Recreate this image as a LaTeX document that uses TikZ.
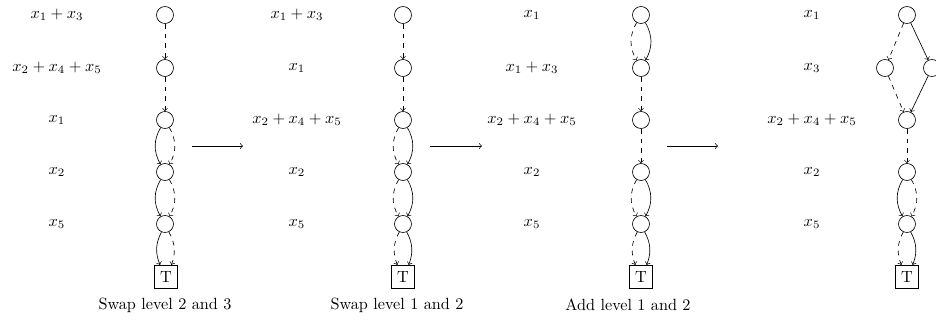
\documentclass[tikz,border=0pt]{standalone}
\begin{document}
\begin{tikzpicture}[x=0.617pt,y=-0.617pt,
  lvl/.style={circle,draw,minimum size=10.5pt,inner sep=0pt},
  term/.style={rectangle,draw,minimum size=14.5pt,inner sep=2pt},
  lo/.style={->,dashed},
  hi/.style={->},
  lab/.style={inner sep=0pt},
  captxt/.style={inner sep=0pt}]
\useasboundingbox (0,0) rectangle (936,325);
\clip (0,0) rectangle (936,325);
% ---------- panel 1
\node[lab] (la1) at (57,15) {$x_1+x_3$};
\node[lab] (la2) at (57,68) {$x_2+x_4+x_5$};
\node[lab] (la3) at (57,120) {$x_1$};
\node[lab] (la4) at (57,172) {$x_2$};
\node[lab] (la5) at (57,224) {$x_5$};
\node[lvl] (a1) at (165,15) {};
\node[lvl] (a2) at (165,68) {};
\node[lvl] (a3) at (165,120) {};
\node[lvl] (a4) at (165,172) {};
\node[lvl] (a5) at (165,224) {};
\node[term] (aT) at (166,277) {T};
\node[captxt] (ca) at (165,305) {Swap level 2 and 3};
\draw[lo] (a1) -- (a2);
\draw[lo] (a2) -- (a3);
\draw[hi] (a3) to[bend right=30] (a4);
\draw[lo] (a3) to[bend left=30] (a4);
\draw[hi] (a4) to[bend right=30] (a5);
\draw[lo] (a4) to[bend left=30] (a5);
\draw[hi] (a5) to[bend right=25] (aT);
\draw[lo] (a5) to[bend left=25] (aT);
% ---------- arrow 1
\coordinate (p1s) at (192,146);
\coordinate (p1e) at (243,146);
\draw[->] (p1s) -- (p1e);
% ---------- panel 2
\node[lab] (lb1) at (297,15) {$x_1+x_3$};
\node[lab] (lb2) at (297,68) {$x_1$};
\node[lab] (lb3) at (297,120) {$x_2+x_4+x_5$};
\node[lab] (lb4) at (297,172) {$x_2$};
\node[lab] (lb5) at (297,224) {$x_5$};
\node[lvl] (b1) at (403,15) {};
\node[lvl] (b2) at (403,68) {};
\node[lvl] (b3) at (403,120) {};
\node[lvl] (b4) at (403,172) {};
\node[lvl] (b5) at (403,224) {};
\node[term] (bT) at (403,277) {T};
\node[captxt] (cb) at (397,305) {Swap level 1 and 2};
\draw[lo] (b1) -- (b2);
\draw[lo] (b2) -- (b3);
\draw[lo] (b3) to[bend right=30] (b4);
\draw[hi] (b3) to[bend left=30] (b4);
\draw[lo] (b4) to[bend right=30] (b5);
\draw[hi] (b4) to[bend left=30] (b5);
\draw[lo] (b5) to[bend right=25] (bT);
\draw[hi] (b5) to[bend left=25] (bT);
% ---------- arrow 2
\coordinate (p2s) at (430,146);
\coordinate (p2e) at (482,146);
\draw[->] (p2s) -- (p2e);
% ---------- panel 3
\node[lab] (lc1) at (532,15) {$x_1$};
\node[lab] (lc2) at (532,68) {$x_1+x_3$};
\node[lab] (lc3) at (532,120) {$x_2+x_4+x_5$};
\node[lab] (lc4) at (532,172) {$x_2$};
\node[lab] (lc5) at (532,224) {$x_5$};
\node[lvl] (c1) at (641,15) {};
\node[lvl] (c2) at (641,68) {};
\node[lvl] (c3) at (641,120) {};
\node[lvl] (c4) at (641,172) {};
\node[lvl] (c5) at (641,224) {};
\node[term] (cT) at (641,277) {T};
\node[captxt] (cc) at (628,305) {Add level 1 and 2};
\draw[lo] (c1) to[bend right=30] (c2);
\draw[hi] (c1) to[bend left=30] (c2);
\draw[lo] (c2) -- (c3);
\draw[lo] (c3) -- (c4);
\draw[lo] (c4) to[bend right=30] (c5);
\draw[hi] (c4) to[bend left=30] (c5);
\draw[lo] (c5) to[bend right=25] (cT);
\draw[hi] (c5) to[bend left=25] (cT);
% ---------- arrow 3
\coordinate (p3s) at (667,146);
\coordinate (p3e) at (718,146);
\draw[->] (p3s) -- (p3e);
% ---------- panel 4
\node[lab] (ld1) at (812,15) {$x_1$};
\node[lab] (ld2) at (812,68) {$x_3$};
\node[lab] (ld3) at (812,120) {$x_2+x_4+x_5$};
\node[lab] (ld4) at (812,172) {$x_2$};
\node[lab] (ld5) at (812,224) {$x_5$};
\node[lvl] (d1) at (907,15) {};
\node[lvl] (dl) at (885,68) {};
\node[lvl] (dr) at (932,68) {};
\node[lvl] (d3) at (907,120) {};
\node[lvl] (d4) at (907,172) {};
\node[lvl] (d5) at (907,224) {};
\node[term] (dT) at (907,277) {T};
\draw[lo] (d1) -- (dl);
\draw[hi] (d1) -- (dr);
\draw[lo] (dl) -- (d3);
\draw[hi] (dr) -- (d3);
\draw[lo] (d3) -- (d4);
\draw[hi] (d4) to[bend right=30] (d5);
\draw[lo] (d4) to[bend left=30] (d5);
\draw[lo] (d5) to[bend right=25] (dT);
\draw[hi] (d5) to[bend left=25] (dT);
\end{tikzpicture}
\end{document}
